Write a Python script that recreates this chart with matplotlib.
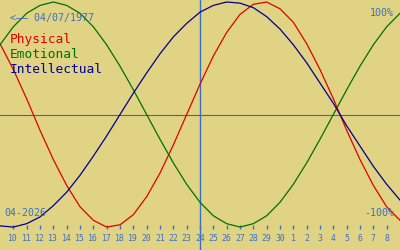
import numpy as np
import matplotlib
matplotlib.use('Agg')
import matplotlib.pyplot as plt

# day offsets from today (24 April), one value per day
days = list(range(-15, 16))

physical = [0.63, 0.40, 0.14, -0.14, -0.40, -0.63, -0.82, -0.94, -1.00, -0.98,
            -0.89, -0.73, -0.52, -0.27, 0.00, 0.27, 0.52, 0.73, 0.89, 0.98,
            1.00, 0.94, 0.82, 0.63, 0.40, 0.14, -0.14, -0.40, -0.63, -0.82, -0.94]
emotional = [0.62, 0.78, 0.90, 0.97, 1.00, 0.97, 0.90, 0.78, 0.62, 0.43,
             0.22, 0.00, -0.22, -0.43, -0.62, -0.78, -0.90, -0.97, -1.00, -0.97,
             -0.90, -0.78, -0.62, -0.43, -0.22, 0.00, 0.22, 0.43, 0.62, 0.78, 0.90]
intellectual = [-0.99, -1.00, -0.97, -0.91, -0.81, -0.69, -0.54, -0.37, -0.19, 0.00,
                0.19, 0.37, 0.54, 0.69, 0.81, 0.91, 0.97, 1.00, 0.99, 0.95,
                0.87, 0.76, 0.62, 0.46, 0.28, 0.10, -0.10, -0.28, -0.46, -0.62, -0.76]

tick_days = list(range(-14, 15))
tick_labels = [str(d) for d in range(10, 31)] + [str(d) for d in range(1, 9)]

birth = '04/07/1977'
month = '04-2026'

bg = '#e1d384'
blue = '#3a6fc4'
mono = 'DejaVu Sans Mono'

fig = plt.figure(figsize=(4, 2.5), dpi=100)
fig.patch.set_facecolor(bg)
ax = fig.add_axes([0, 0, 1, 1])
ax.set_facecolor(bg)
ax.set_xlim(-15, 15)
ax.set_ylim(-1.204, 1.018)

ax.axhline(0, color='#3a68b0', lw=0.8, zorder=1)
ax.axvline(0, color=blue, lw=1.0, zorder=1)

ax.plot(days, physical, color='#e00000', lw=0.9, zorder=3)
ax.plot(days, emotional, color='#007000', lw=0.9, zorder=3)
ax.plot(days, intellectual, color='#000090', lw=0.9, zorder=3)

for s in ax.spines.values():
    s.set_visible(False)
ax.spines['bottom'].set_position(('data', -1.0))
ax.set_yticks([])
ax.set_xticks(tick_days)
ax.set_xticklabels(tick_labels, family=mono, fontsize=5.9, color=blue)
ax.tick_params(axis='x', direction='inout', length=3, width=1.0, color=blue, pad=3.5)


def px(x, y):
    return x / 400, 1 - y / 250


ax.text(*px(10, 21), '<\u2014\u2014 ' + birth, transform=ax.transAxes, family=mono,
        fontsize=7.2, color=blue, va='baseline', ha='left')
ax.text(*px(394, 16), '100%', transform=ax.transAxes, family=mono,
        fontsize=7.2, color=blue, va='baseline', ha='right')
ax.text(*px(394, 216), '-100%', transform=ax.transAxes, family=mono,
        fontsize=7.2, color=blue, va='baseline', ha='right')
ax.text(*px(4, 216), month, transform=ax.transAxes, family=mono,
        fontsize=7.2, color=blue, va='baseline', ha='left')

ax.text(*px(10, 43.5), 'Physical', transform=ax.transAxes, family=mono,
        fontsize=9.3, color='#e00000', va='baseline', ha='left')
ax.text(*px(10, 58.3), 'Emotional', transform=ax.transAxes, family=mono,
        fontsize=9.3, color='#007000', va='baseline', ha='left')
ax.text(*px(10, 73), 'Intellectual', transform=ax.transAxes, family=mono,
        fontsize=9.3, color='#000090', va='baseline', ha='left')

fig.savefig('out.png', dpi=100, facecolor=bg)
